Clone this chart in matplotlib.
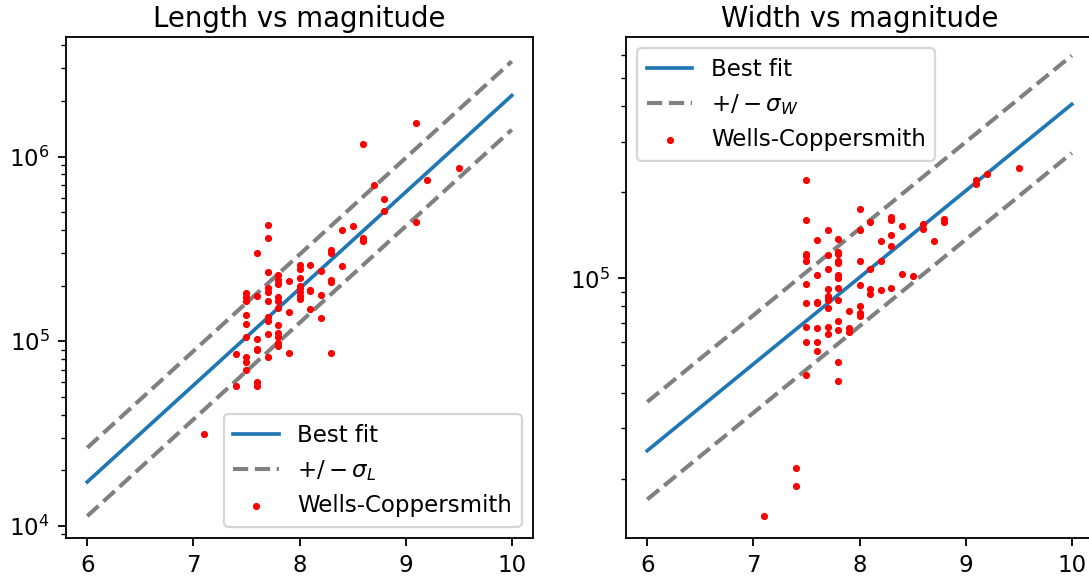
import numpy as np
import matplotlib
matplotlib.use("Agg")
import matplotlib.pyplot as plt

# magnitudes used for the fit lines
mag_fit = [6, 10]

# fit lines (metres) read at M=6 and M=10, with log10 scatter
length_fit = [1.73e4, 2.14e6]
sigma_L = 0.185
width_fit = [2.51e4, 4.05e5]
sigma_W = 0.17

# Wells-Coppersmith rupture lengths (m)
len_mag = [9.1, 8.6, 9.5, 9.2, 8.7, 8.8, 8.8, 9.1, 7.7, 7.7,
           7.6, 8.4, 8.5, 8.6, 8.6, 8.3, 8.3, 8.4, 8.1, 8.0,
           8.0, 8.2, 7.7, 7.8, 7.8, 7.8, 7.9, 8.0, 8.0, 8.0,
           8.1, 8.1, 8.3, 8.3, 8.0, 8.0, 8.0, 7.7, 7.7, 7.7,
           7.6, 7.5, 7.5, 7.5, 7.8, 7.8, 8.2, 7.8, 7.9, 8.1,
           8.2, 7.5, 7.5, 7.7, 7.7, 7.5, 7.6, 7.6, 7.6, 7.7,
           7.8, 7.8, 7.8, 7.8, 7.8, 7.7, 7.9, 8.3, 7.4, 7.5,
           7.5, 7.5, 7.4, 7.6, 7.6, 7.1]
len_m = [1.52e6, 1.17e6, 8.7e5, 7.5e5, 7.0e5, 5.9e5, 5.1e5, 4.4e5, 4.26e5, 3.6e5,
         3.0e5, 4.0e5, 4.2e5, 3.6e5, 3.5e5, 3.1e5, 3.0e5, 2.54e5, 2.6e5, 2.6e5,
         2.47e5, 2.4e5, 2.37e5, 2.27e5, 2.15e5, 2.04e5, 2.12e5, 2.19e5, 2.0e5, 1.95e5,
         1.9e5, 1.88e5, 2.15e5, 2.08e5, 1.84e5, 1.76e5, 1.69e5, 1.95e5, 1.84e5, 1.66e5,
         1.75e5, 1.82e5, 1.73e5, 1.66e5, 1.73e5, 1.66e5, 1.78e5, 1.52e5, 1.44e5, 1.49e5,
         1.34e5, 1.38e5, 1.24e5, 1.36e5, 1.28e5, 1.06e5, 1.03e5, 9.1e4, 8.95e4, 1.1e5,
         1.22e5, 1.11e5, 1.06e5, 9.8e4, 9.4e4, 8.2e4, 8.65e4, 8.65e4, 8.5e4, 8.2e4,
         7.7e4, 7.0e4, 5.7e4, 6.0e4, 5.7e4, 3.15e4]

# Wells-Coppersmith rupture widths (m)
wid_mag = [7.5, 7.5, 7.7, 7.6, 7.8, 8.0, 8.0, 8.1, 8.3, 8.3,
           8.4, 8.6, 8.6, 8.8, 8.8, 8.7, 8.3, 8.3, 8.2, 9.1,
           9.1, 9.2, 9.5, 7.5, 7.5, 7.5, 7.7, 7.8, 7.8, 7.8,
           7.8, 8.0, 8.2, 8.1, 7.7, 7.6, 7.8, 7.8, 7.5, 7.8,
           8.0, 8.1, 8.1, 8.2, 8.3, 8.4, 8.5, 7.7, 7.7, 7.7,
           7.7, 7.7, 7.8, 7.6, 7.6, 7.5, 7.9, 8.0, 8.0, 8.0,
           7.8, 7.8, 7.9, 7.9, 7.5, 7.6, 7.7, 7.7, 7.5, 7.6,
           7.6, 7.8, 7.5, 7.8, 7.4, 7.4, 7.1]
wid_m = [2.21e5, 1.6e5, 1.47e5, 1.36e5, 1.37e5, 1.75e5, 1.48e5, 1.57e5, 1.64e5, 1.6e5,
         1.53e5, 1.55e5, 1.49e5, 1.61e5, 1.57e5, 1.35e5, 1.42e5, 1.3e5, 1.35e5, 2.2e5,
         2.14e5, 2.32e5, 2.42e5, 1.22e5, 1.2e5, 1.15e5, 1.21e5, 1.24e5, 1.22e5, 1.15e5,
         1.13e5, 1.15e5, 1.15e5, 1.08e5, 1.08e5, 1.03e5, 1.03e5, 1.0e5, 9.6e4, 9.3e4,
         9.5e4, 9.2e4, 8.8e4, 9.1e4, 9.3e4, 1.04e5, 1.02e5, 9.2e4, 8.7e4, 8.55e4,
         8.4e4, 7.9e4, 8.4e4, 8.3e4, 8.2e4, 8.2e4, 7.7e4, 8.0e4, 7.6e4, 7.4e4,
         7.1e4, 6.6e4, 6.7e4, 6.5e4, 6.8e4, 6.7e4, 6.8e4, 6.4e4, 6.0e4, 6.0e4,
         5.6e4, 5.1e4, 4.6e4, 4.4e4, 2.19e4, 1.89e4, 1.49e4]

W, H = 1089, 580
DPI = 165
fig = plt.figure(figsize=(W / DPI, H / DPI), dpi=DPI)
ax1 = fig.add_axes([66 / W, 42 / H, 467 / W, 501 / H])
ax2 = fig.add_axes([626 / W, 42 / H, 467 / W, 501 / H])


def panel(ax, fit, sigma, mag, vals, sym, title):
    fit = np.array(fit)
    ax.semilogy(mag_fit, fit, color="tab:blue", lw=1.6, label="Best fit")
    ax.semilogy(mag_fit, fit * 10 ** sigma, "--", color="gray", lw=1.8,
                label=r"$+/-\sigma_%s$" % sym)
    ax.semilogy(mag_fit, fit / 10 ** sigma, "--", color="gray", lw=1.8)
    ax.scatter(mag, vals, s=4.5, color="red", zorder=3, label="Wells-Coppersmith")
    ax.set_title(title, fontsize=12, pad=4.5)
    ax.set_xlim(5.8, 10.2)
    ax.set_xticks([6, 7, 8, 9, 10])


panel(ax1, length_fit, sigma_L, len_mag, len_m, "L", "Length vs magnitude")
ax1.set_ylim(8.6e3, 4.44e6)
ax1.legend(loc="lower right")

panel(ax2, width_fit, sigma_W, wid_mag, wid_m, "W", "Width vs magnitude")
ax2.set_ylim(1.245e4, 6.95e5)
ax2.legend(loc="upper left")

fig.savefig("out.png", dpi=DPI)
